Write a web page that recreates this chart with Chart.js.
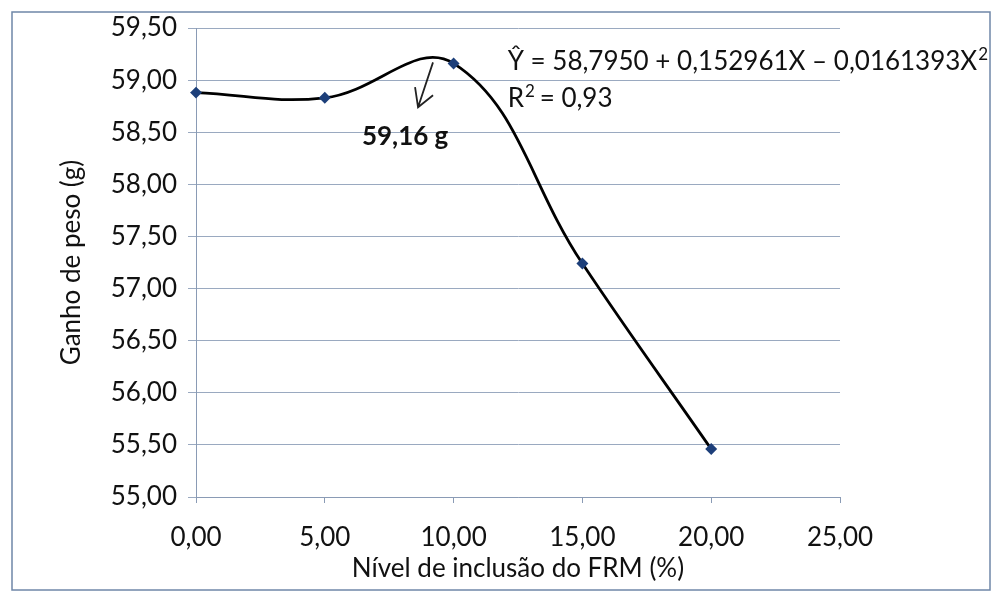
<!DOCTYPE html>
<html>
<head>
<meta charset="utf-8">
<script src="https://cdn.jsdelivr.net/npm/chart.js@4"></script>
<style>
  html, body { margin: 0; padding: 0; background: #fff; }
  #wrap { position: relative; width: 998px; height: 595px; }
</style>
</head>
<body>
<div id="wrap"><canvas id="c_chart" width="998" height="595"></canvas></div>
<script>
// data
const inclusionLevels = [0, 5, 10, 15, 20];
const weightGain = [58.88, 58.83, 59.16, 57.24, 55.46];
const yTicks = [55, 55.5, 56, 56.5, 57, 57.5, 58, 58.5, 59, 59.5];
const xTicks = [0, 5, 10, 15, 20, 25];

const equationText = "\u0176 = 58,7950 + 0,152961X \u2013 0,0161393X";
const r2Text = "R";
const peakLabel = "59,16 g";

const FONT = "Lato, 'Open Sans', sans-serif";
const FS = 26;

function fmt(v) {
  return v.toFixed(2).replace(".", ",");
}

// annotations, arrow and outer frame
const extrasPlugin = {
  id: "extras",
  afterDraw(chart) {
    const ctx = chart.ctx;
    const xs = chart.scales.x, ys = chart.scales.y;
    ctx.save();

    // outer frame
    ctx.strokeStyle = "#6f87a8";
    ctx.lineWidth = 1.5;
    ctx.strokeRect(12, 12, 978, 578);

    ctx.fillStyle = "#111";
    ctx.textBaseline = "alphabetic";
    ctx.textAlign = "left";

    // regression equation
    ctx.font = FS + "px " + FONT;
    let ex = xs.getPixelForValue(12.1), ey = ys.getPixelForValue(59.1);
    ctx.fillText(equationText, ex, ey);
    let w = ctx.measureText(equationText).width;
    ctx.font = "17px " + FONT;
    ctx.fillText("2", ex + w + 1, ey - 10);

    ctx.font = FS + "px " + FONT;
    let ry = ey + 37;
    ctx.fillText(r2Text, ex, ry);
    let rw = ctx.measureText(r2Text).width;
    ctx.font = "17px " + FONT;
    ctx.fillText("2", ex + rw + 1, ry - 10);
    ctx.font = FS + "px " + FONT;
    ctx.fillText(" = 0,93", ex + rw + 9, ry);

    // peak label
    ctx.font = "bold " + FS + "px " + FONT;
    ctx.fillText(peakLabel, xs.getPixelForValue(6.44), ys.getPixelForValue(58.38));

    // hand drawn arrow
    const ax1 = xs.getPixelForValue(9.2), ay1 = ys.getPixelForValue(59.17);
    const ax2 = xs.getPixelForValue(8.62), ay2 = ys.getPixelForValue(58.74);
    ctx.strokeStyle = "#222";
    ctx.lineWidth = 1.8;
    ctx.beginPath();
    ctx.moveTo(ax1, ay1);
    ctx.lineTo(ax2, ay2);
    ctx.moveTo(ax2 - 3, ay2 - 20);
    ctx.lineTo(ax2, ay2);
    ctx.lineTo(ax2 + 15, ay2 - 12);
    ctx.stroke();

    ctx.restore();
  }
};

new Chart(document.getElementById("c_chart"), {
  type: "line",
  data: {
    datasets: [{
      data: inclusionLevels.map((x, i) => ({ x: x, y: weightGain[i] })),
      borderColor: "#000",
      borderWidth: 2.8,
      tension: 0.4,
      pointStyle: "rectRot",
      pointRadius: 4,
      pointBackgroundColor: "#1d3f7a",
      pointBorderColor: "#1d3f7a",
      clip: false
    }]
  },
  options: {
    responsive: false,
    animation: false,
    layout: { padding: { left: 40, right: 158, top: 28, bottom: 8 } },
    plugins: {
      legend: { display: false },
      tooltip: { enabled: false }
    },
    scales: {
      x: {
        type: "linear",
        min: 0,
        max: 25,
        afterBuildTicks(scale) { scale.ticks = xTicks.map(v => ({ value: v })); },
        afterFit(scale) { scale.height = 90; },
        ticks: {
          callback: v => fmt(v),
          color: "#111",
          font: { family: FONT, size: FS },
          padding: 19
        },
        grid: { drawOnChartArea: false, drawTicks: true, tickLength: 6, color: "#8a9bb5" },
        border: { color: "#8a9bb5" },
        title: {
          display: true,
          text: "N\u00edvel de inclus\u00e3o do FRM (%)",
          color: "#111",
          font: { family: FONT, size: FS },
          padding: { top: 0, bottom: 3 }
        }
      },
      y: {
        min: 55,
        max: 59.5,
        afterBuildTicks(scale) { scale.ticks = yTicks.map(v => ({ value: v })); },
        afterFit(scale) { scale.width = 156; },
        ticks: {
          callback: v => fmt(v),
          color: "#111",
          font: { family: FONT, size: FS },
          padding: 11
        },
        grid: { color: "#9aa9c0", tickLength: 8 },
        border: { color: "#8a9bb5" },
        title: {
          display: true,
          text: "Ganho de peso (g)",
          color: "#111",
          font: { family: FONT, size: FS },
          padding: { top: 16, bottom: 0 }
        }
      }
    }
  },
  plugins: [extrasPlugin]
});
</script>
</body>
</html>
